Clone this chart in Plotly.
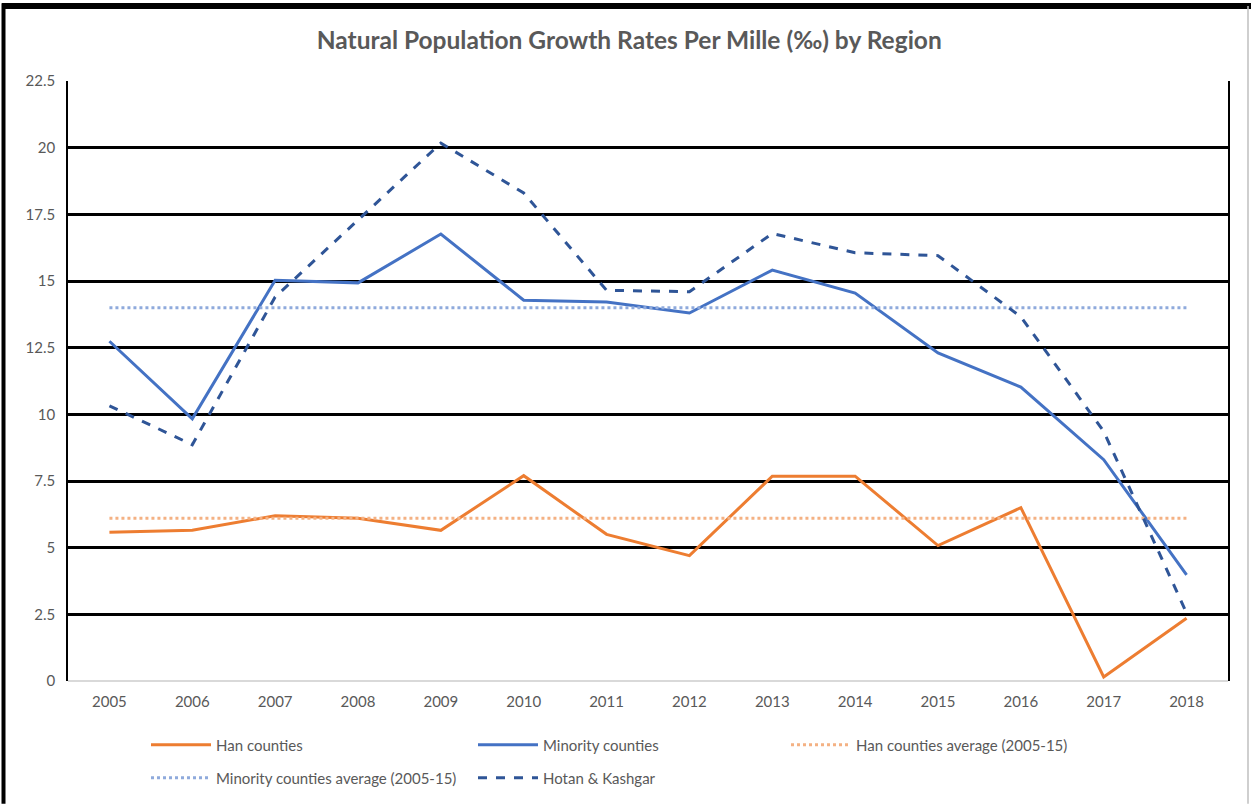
import plotly.graph_objects as go

years = ["2005", "2006", "2007", "2008", "2009", "2010", "2011", "2012", "2013", "2014", "2015", "2016", "2017", "2018"]
han = [5.58, 5.65, 6.2, 6.1, 5.65, 7.7, 5.5, 4.7, 7.68, 7.68, 5.08, 6.5, 0.15, 2.35]
minority = [12.74, 9.83, 15.03, 14.93, 16.76, 14.28, 14.21, 13.8, 15.41, 14.55, 12.3, 11.02, 8.3, 3.98]
hotan = [10.32, 8.86, 14.4, 17.3, 20.17, 18.3, 14.65, 14.6, 16.78, 16.06, 15.95, 13.66, 9.36, 2.55]
han_avg = [6.1] * len(years)
minority_avg = [14.0] * len(years)

font = "Lato, 'Liberation Sans', sans-serif"
grey = "#595959"

fig = go.Figure()
fig.add_trace(go.Scatter(x=years, y=han, mode="lines", name="Han counties", legend="legend",
                         line=dict(color="#ED7D31", width=3)))
fig.add_trace(go.Scatter(x=years, y=minority, mode="lines", name="Minority counties", legend="legend",
                         line=dict(color="#4472C4", width=3)))
fig.add_trace(go.Scatter(x=years, y=han_avg, mode="lines", name="Han counties average (2005-15)",
                         legend="legend3", line=dict(color="#F4B183", width=3, dash="dot")))
fig.add_trace(go.Scatter(x=years, y=minority_avg, mode="lines", name="Minority counties average (2005-15)",
                         legend="legend2", line=dict(color="#8FAADC", width=3, dash="dot")))
fig.add_trace(go.Scatter(x=years, y=hotan, mode="lines", name="Hotan & Kashgar", legend="legend2",
                         line=dict(color="#2F5597", width=3, dash="dash")))

# plot area pixel geometry: x 68..1228, y 81..682
def px(x):
    return (x - 68) / 1160
def py(y):
    return (682 - y) / 601

def leg(x, y):
    return dict(orientation="h", x=px(x), xanchor="left", y=py(y), yanchor="middle",
                font=dict(family=font, size=15, color=grey),
                entrywidth=252, entrywidthmode="pixels", traceorder="normal",
                itemwidth=60, bgcolor="rgba(0,0,0,0)")

fig.update_layout(
    width=1251, height=805,
    margin=dict(l=68, r=23, t=81, b=123),
    paper_bgcolor="white", plot_bgcolor="white",
    title=dict(text="<b>Natural Population Growth Rates Per Mille (‰) by Region</b>",
               x=0.503, xanchor="center", y=1 - 40 / 805, yanchor="middle",
               font=dict(family=font, size=24.5, color=grey)),
    font=dict(family=font, color=grey),
    showlegend=True,
    legend=leg(146, 745),
    legend2=leg(146, 778),
    legend3=leg(786, 745),
    xaxis=dict(type="category", range=[-0.5, 13.5], showgrid=False, showline=False, automargin=False,
               ticks="", ticklabelstandoff=10,
               tickfont=dict(family=font, size=15, color=grey), zeroline=False),
    yaxis=dict(range=[0, 22.5], dtick=2.5, tick0=0, showgrid=True, gridcolor="black", automargin=False,
               gridwidth=2.5, zeroline=True, zerolinecolor="#D9D9D9", zerolinewidth=1.5,
               showline=True, mirror=True, linecolor="black", linewidth=1.5,
               ticks="", ticklabelstandoff=8, tickfont=dict(family=font, size=15, color=grey)),
    shapes=[
        dict(type="line", xref="paper", yref="paper", x0=px(2), x1=px(1251), y0=py(6), y1=py(6),
             line=dict(color="black", width=6), layer="above"),
        dict(type="line", xref="paper", yref="paper", x0=px(3.5), x1=px(3.5), y0=py(3), y1=py(805),
             line=dict(color="black", width=4), layer="above"),
        dict(type="line", xref="paper", yref="paper", x0=px(1248), x1=px(1248), y0=py(6), y1=py(805),
             line=dict(color="#BFBFBF", width=1.5)),
    ],
)

fig.write_html("out.html", config={"displayModeBar": False},
               post_script="document.body.style.margin='0px';")
